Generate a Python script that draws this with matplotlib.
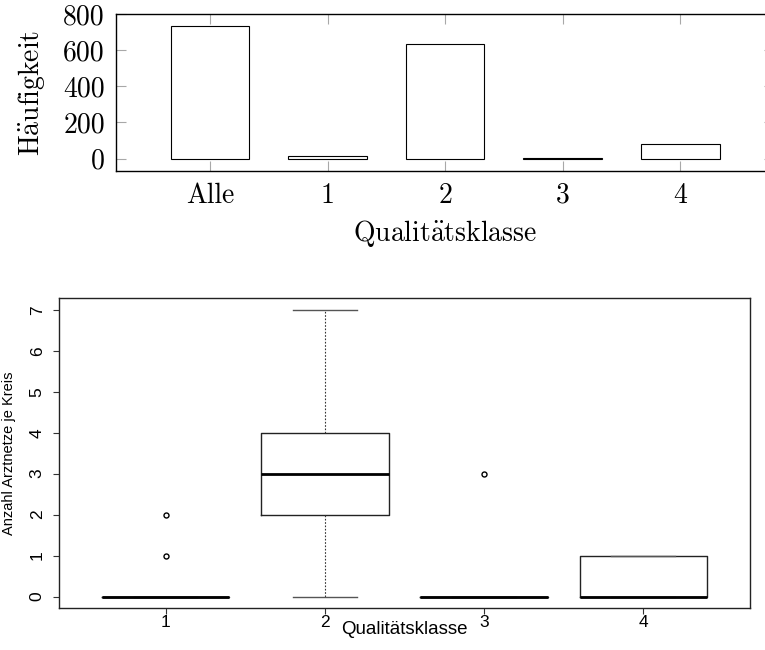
import matplotlib
matplotlib.use("Agg")
import matplotlib.pyplot as plt
import numpy as np

# top chart: counts per quality class
bar_labels = ['Alle', '1', '2', '3', '4']
bar_counts = [732, 13, 636, 2, 83]

# bottom chart: box statistics of "Arztnetze je Kreis" per class
box_labels = ['1', '2', '3', '4']
box_q1 = [0, 2, 0, 0]
box_med = [0, 3, 0, 0]
box_q3 = [0, 4, 0, 1]
box_lo = [0, 0, 0, 0]
box_hi = [0, 7, 0, 1]
box_fliers = [[1, 2], [], [3], []]

plt.rcParams['mathtext.fontset'] = 'cm'

fig = plt.figure(figsize=(7.65, 6.5), dpi=100)

# ---- top: pgfplots-like bar chart ----
cm = ['cmr10', 'DejaVu Serif']
ax1 = fig.add_axes([0.1516, 0.7365, 0.8604, 0.242])
x = np.arange(len(bar_labels))
ax1.bar(x, bar_counts, width=0.67, color='white', edgecolor='black', linewidth=0.8)
ax1.set_xlim(-0.8, 4.8)
ax1.set_ylim(-70, 800)
ax1.set_xticks(x)
ax1.set_xticklabels(bar_labels, family=cm, fontsize=20)
ax1.set_yticks([0, 200, 400, 600, 800])
ax1.set_yticklabels(['0', '200', '400', '600', '800'], family=cm, fontsize=20)
ax1.tick_params(direction='in', length=7.5, width=0.8, color='#a8a8a8',
                top=True, right=True)
ax1.tick_params(axis='x', pad=8)
ax1.tick_params(axis='y', pad=8)
for s in ax1.spines.values():
    s.set_linewidth(1.0)
ax1.set_xlabel(r'$\mathrm{Qualit\ddot{a}tsklasse}$', fontsize=20)
ax1.xaxis.set_label_coords(0.5, -0.395)
ax1.xaxis.label.set_verticalalignment('center')
ax1.set_ylabel(r'$\mathrm{H\ddot{a}ufigkeit}$', fontsize=20)
ax1.yaxis.set_label_coords(-0.128, 0.5)
ax1.yaxis.label.set_verticalalignment('center')

# ---- bottom: R-like boxplot ----
sans = 'Liberation Sans'
ax2 = fig.add_axes([0.0775, 0.0646, 0.9025, 0.4764])
stats = []
for i in range(len(box_labels)):
    stats.append({'med': box_med[i], 'q1': box_q1[i], 'q3': box_q3[i],
                  'whislo': box_lo[i], 'whishi': box_hi[i],
                  'fliers': box_fliers[i], 'label': box_labels[i]})
ax2.bxp(stats, positions=range(1, 5), widths=0.8, showfliers=True,
        boxprops=dict(color='#222222', linewidth=1.0),
        medianprops=dict(color='black', linewidth=2.0, solid_capstyle='butt'),
        whiskerprops=dict(color='#333333', linewidth=0.8, linestyle=(0, (1.5, 1.5))),
        capprops=dict(color='#555555', linewidth=1.0),
        flierprops=dict(marker='o', markersize=3.6, markerfacecolor='none',
                        markeredgecolor='black', markeredgewidth=1.0))
ax2.set_xlim(0.332, 4.668)
ax2.set_ylim(-0.28, 7.28)
ax2.set_xticks(range(1, 5))
ax2.set_xticklabels(box_labels, family=sans, fontsize=12.5)
ax2.set_yticks(range(8))
ax2.set_yticklabels([str(v) for v in range(8)], family=sans,
                    fontsize=12.5, rotation=90, va='center')
ax2.tick_params(direction='out', length=4.5, width=0.8, color='#333333')
ax2.tick_params(axis='x', pad=0.5)
ax2.tick_params(axis='y', pad=6)
for s in ax2.spines.values():
    s.set_linewidth(1.0)
    s.set_color('#222222')
ax2.set_xlabel('Qualitätsklasse', family=sans, fontsize=13.5)
ax2.xaxis.set_label_coords(0.5, -0.071)
ax2.xaxis.label.set_verticalalignment('center')
ax2.set_ylabel('Anzahl Arztnetze je Kreis', family=sans, fontsize=10.5)
ax2.yaxis.set_label_coords(-0.0728, 0.5)
ax2.yaxis.label.set_verticalalignment('center')

fig.savefig('out.png', dpi=100)
